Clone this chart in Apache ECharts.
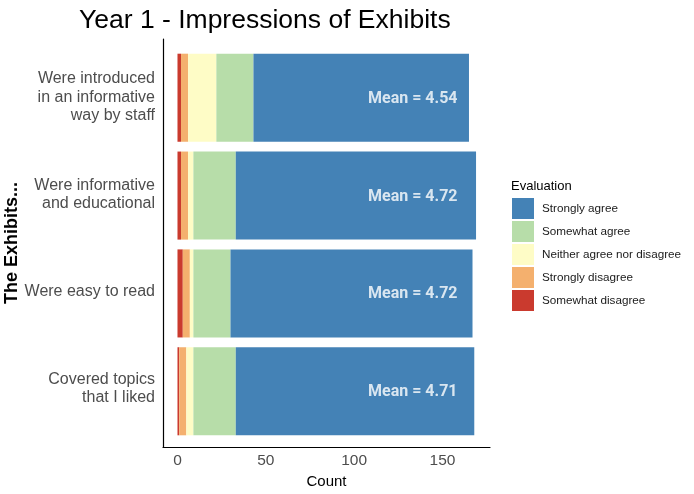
<!DOCTYPE html>
<html><head><meta charset="utf-8">
<script src="https://cdn.jsdelivr.net/npm/echarts@6/dist/echarts.min.js"></script>
<style>html,body{margin:0;padding:0;background:#fff}#c{width:694px;height:494px}</style>
</head><body><div id="c"></div>
<script>
const categories = ["Were introduced\nin an informative\nway by staff", "Were informative\nand educational", "Were easy to read", "Covered topics\nthat I liked"];
const somewhatDisagree = [2, 2, 3, 1];
const stronglyDisagree = [4, 4, 4, 4];
const neitherAgree = [16, 3, 2, 4];
const somewhatAgree = [21, 24, 21, 24];
const stronglyAgree = [122, 136, 137, 135];
const means = ["4.54", "4.72", "4.72", "4.71"];
const xTicks = [0, 50, 100, 150];

const labelAnchor = 158.5;
const xMin = -8.2, xMax = 176.9;

const seriesDefs = [
  {name: "Somewhat disagree", data: somewhatDisagree, color: "#CA3A2E"},
  {name: "Strongly disagree", data: stronglyDisagree, color: "#F4B06E"},
  {name: "Neither agree nor disagree", data: neitherAgree, color: "#FEFCC6"},
  {name: "Somewhat agree", data: somewhatAgree, color: "#B7DDA9"},
  {name: "Strongly agree", data: stronglyAgree, color: "#4482B6"}
];

const chart = echarts.init(document.getElementById('c'));
const series = seriesDefs.map(s => ({
  type: 'bar', name: s.name, stack: 'all', data: s.data,
  xAxisIndex: 1, yAxisIndex: 1, barCategoryGap: '10%',
  itemStyle: {color: s.color}, emphasis: {disabled: true}
}));
series.push({
  type: 'scatter', xAxisIndex: 1, yAxisIndex: 1, symbolSize: 0, silent: true,
  data: means.map((m, i) => [labelAnchor, i]),
  label: {show: true, position: 'left', distance: 0, color: '#fff', fontFamily: 'Roboto', fontWeight: 'bold', fontSize: 16, offset: [0, 1],
    formatter: p => 'Mean = ' + means[p.dataIndex]}
});

chart.setOption({
  animation: false,
  textStyle: {fontFamily: 'Liberation Sans'},
  title: [
    {text: 'Year 1 - Impressions of Exhibits', left: 74, top: 2, textStyle: {fontSize: 26.5, fontWeight: 'normal', color: '#000', fontFamily: 'Liberation Sans'}},
    {text: 'Evaluation', left: 506, top: 175, textStyle: {fontSize: 13, fontWeight: 'normal', color: '#000', fontFamily: 'Liberation Sans'}}
  ],
  legend: {
    orient: 'vertical', left: 507, top: 193, itemWidth: 22, itemHeight: 21, itemGap: 2, icon: 'rect',
    data: ["Strongly agree", "Somewhat agree", "Neither agree nor disagree", "Strongly disagree", "Somewhat disagree"],
    textStyle: {fontSize: 11.7, color: '#1a1a1a', padding: [0, 0, 0, 3], fontFamily: 'Liberation Sans'}, selectedMode: false
  },
  grid: [
    {left: 163, top: 39, width: 327, height: 411},
    {left: 163, top: 48.8, width: 327, height: 391.4}
  ],
  xAxis: [
    {gridIndex: 0, type: 'value', min: xMin, max: xMax, splitLine: {show: false},
      axisLine: {show: true, onZero: false, lineStyle: {color: '#000', width: 1.2}}, axisTick: {show: false},
      axisLabel: {customValues: xTicks, fontSize: 15.5, color: '#4d4d4d', margin: 6},
      name: 'Count', nameLocation: 'middle', nameGap: 24, nameTextStyle: {fontSize: 15, color: '#000'}},
    {gridIndex: 1, type: 'value', min: xMin, max: xMax, show: false, splitLine: {show: false}}
  ],
  yAxis: [
    {gridIndex: 0, type: 'value', min: 0.4, max: 4.6, inverse: true, splitLine: {show: false},
      axisLine: {show: true, onZero: false, lineStyle: {color: '#000', width: 1.2}}, axisTick: {show: false},
      axisLabel: {customValues: [1, 2, 3, 4], formatter: v => categories[Math.round(v) - 1], fontSize: 16, color: '#4d4d4d', lineHeight: 18.5, margin: 8, align: 'right', padding: [0, 0, 8, 0]},
      name: 'The Exhibits...', nameLocation: 'middle', nameGap: 141, nameTextStyle: {fontSize: 18, fontWeight: 'bold', color: '#000'}},
    {gridIndex: 1, type: 'category', data: categories, inverse: true, show: false}
  ],
  series: series
});
</script></body></html>
